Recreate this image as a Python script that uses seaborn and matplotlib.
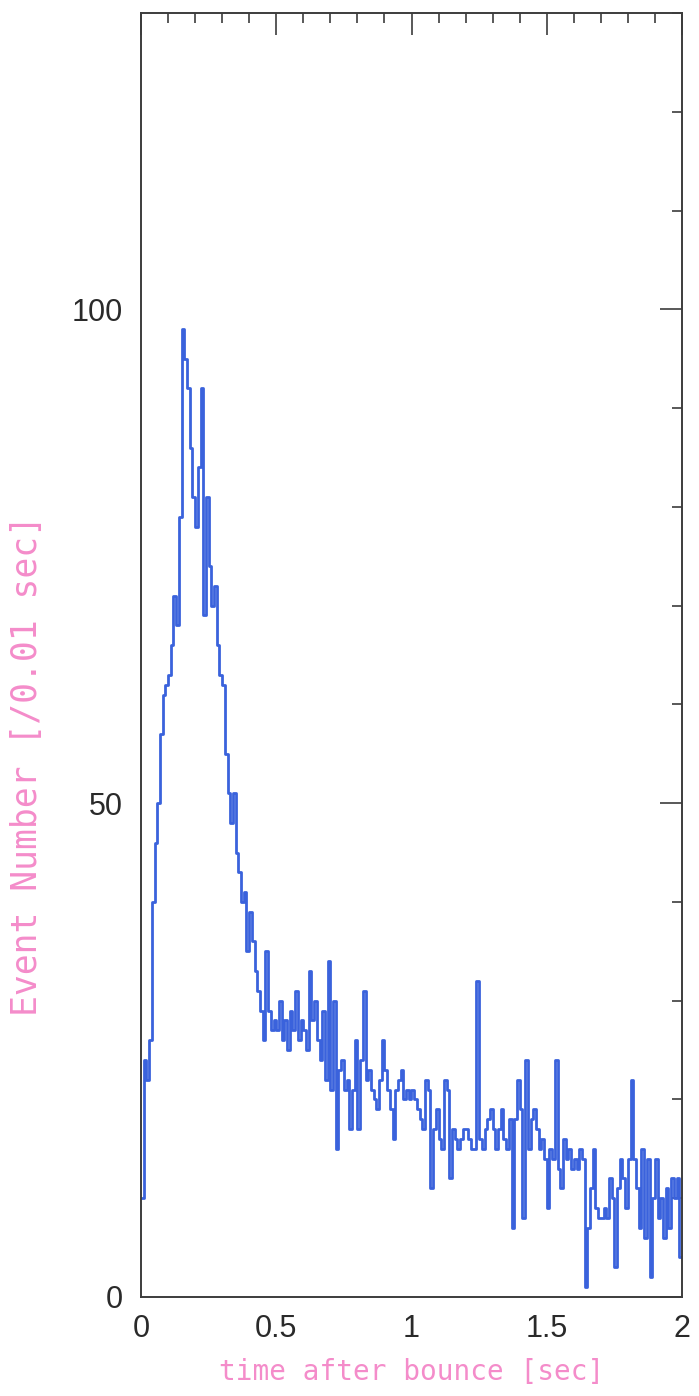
import numpy as np
import pandas as pd
import matplotlib
matplotlib.use("Agg")
import matplotlib.pyplot as plt
import seaborn as sns

# Event counts per 0.01 s bin, 0.00 .. 1.99 s after bounce
counts_000 = [10, 24, 22, 26, 40, 46, 50, 57, 61, 62]
counts_010 = [63, 66, 71, 68, 79, 98, 95, 92, 86, 81]
counts_020 = [78, 84, 92, 69, 81, 74, 70, 72, 66, 63]
counts_030 = [62, 55, 51, 48, 51, 45, 43, 40, 41, 35]
counts_040 = [39, 36, 33, 31, 29, 26, 35, 29, 27, 28]
counts_050 = [27, 30, 26, 28, 25, 29, 27, 31, 26, 28]
counts_060 = [27, 25, 33, 28, 30, 26, 24, 29, 22, 34]
counts_070 = [21, 30, 15, 23, 24, 21, 22, 17, 21, 26]
counts_080 = [17, 24, 31, 22, 23, 21, 20, 19, 22, 26]
counts_090 = [23, 21, 19, 16, 21, 22, 23, 20, 21, 20]
counts_100 = [21, 20, 19, 18, 17, 22, 21, 11, 17, 19]
counts_110 = [16, 15, 22, 21, 12, 17, 16, 15, 16, 17]
counts_120 = [17, 16, 15, 15, 32, 16, 15, 17, 18, 19]
counts_130 = [17, 15, 17, 19, 16, 15, 18, 7, 18, 22]
counts_140 = [19, 8, 24, 15, 18, 19, 17, 15, 16, 14]
counts_150 = [9, 15, 14, 24, 13, 11, 16, 14, 15, 13]
counts_160 = [14, 13, 15, 14, 1, 7, 11, 15, 9, 8]
counts_170 = [8, 9, 8, 12, 10, 3, 11, 14, 12, 9]
counts_180 = [14, 22, 14, 11, 7, 15, 6, 14, 2, 10]
counts_190 = [14, 8, 10, 6, 11, 7, 12, 10, 12, 4]

t_range = (0.0, 2.0)
x_ticks = [0, 0.5, 1, 1.5, 2]
x_tick_labels = ["0", "0.5", "1", "1.5", "2"]
y_ticks = [0, 50, 100]
y_tick_labels = ["0", "50", "100"]

counts = np.array(
    counts_000 + counts_010 + counts_020 + counts_030 + counts_040
    + counts_050 + counts_060 + counts_070 + counts_080 + counts_090
    + counts_100 + counts_110 + counts_120 + counts_130 + counts_140
    + counts_150 + counts_160 + counts_170 + counts_180 + counts_190,
    dtype=float,
)
n_bins = len(counts)
width = (t_range[1] - t_range[0]) / n_bins
centers = t_range[0] + (np.arange(n_bins) + 0.5) * width
df = pd.DataFrame({"t": centers, "n": counts})

sns.set_theme(style="white")
label_pink = "#f48cca"
axis_grey = "#3c3c3c"
line_blue = "#3a62dc"

fig = plt.figure(figsize=(6.99, 13.96), dpi=100)
ax = fig.add_axes([141 / 699, 1 - 1297 / 1396, 541 / 699, 1284 / 1396])

sns.histplot(
    data=df, x="t", weights="n", bins=n_bins, binrange=t_range,
    element="step", fill=False, color=line_blue, linewidth=2.0, ax=ax,
)

ax.set_xlim(*t_range)
ax.set_ylim(0, 130)
ax.set_xticks(x_ticks)
ax.set_xticklabels(x_tick_labels)
ax.set_yticks(y_ticks)
ax.set_yticklabels(y_tick_labels)
ax.set_xticks(np.arange(0, 2.001, 0.1), minor=True)
ax.set_yticks(np.arange(0, 130.1, 10), minor=True)

ax.tick_params(which="both", direction="in", top=True, right=True,
               colors=axis_grey, width=1.2)
ax.tick_params(which="major", length=16, labelsize=22)
ax.tick_params(axis="x", which="major", pad=12)
ax.tick_params(axis="y", which="major", pad=13)
ax.tick_params(which="minor", length=7)
for lab in ax.get_xticklabels() + ax.get_yticklabels():
    lab.set_fontfamily("Liberation Sans")
    lab.set_color("#2a2a2a")

for sp in ax.spines.values():
    sp.set_color(axis_grey)
    sp.set_linewidth(1.4)

ax.set_xlabel("time after bounce [sec]", color=label_pink, fontsize=20,
              family="DejaVu Sans Mono", labelpad=10)
ax.set_ylabel("Event Number [/0.01 sec]", color=label_pink, fontsize=25,
              family="DejaVu Sans Mono")
ax.yaxis.set_label_coords((44 - 141) / 541, (1297 - 765) / 1284)

fig.savefig("out.png", dpi=100, facecolor="white")
